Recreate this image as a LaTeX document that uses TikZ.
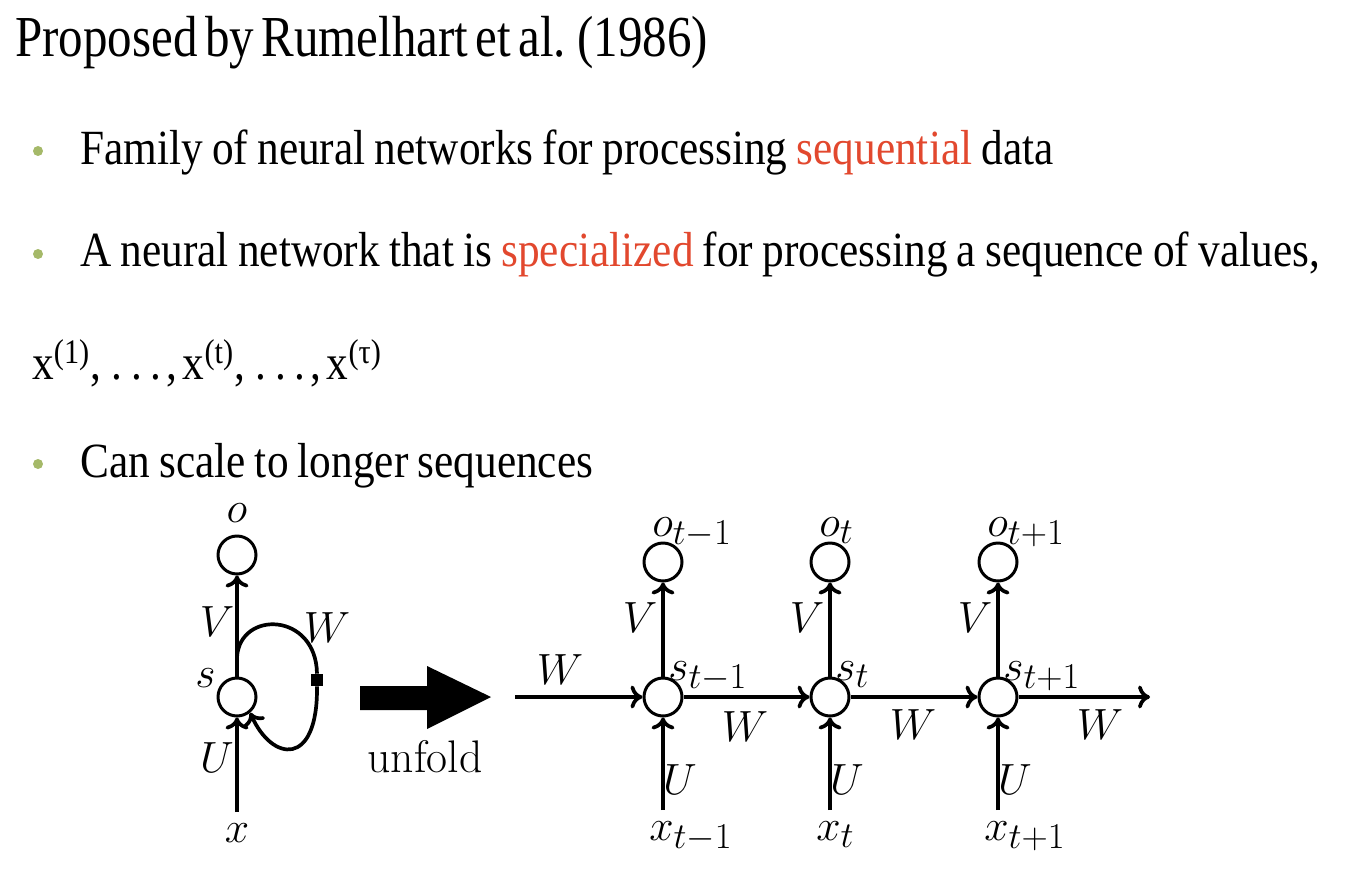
\documentclass[tikz,border=0pt]{standalone}
\usepackage{fontspec}
\newfontfamily\slidefont[FakeStretch=0.88,WordSpace=0.85]{Liberation Serif}
\newfontfamily\titlefont[FakeStretch=0.845,WordSpace=0.6]{Liberation Serif}
\usetikzlibrary{arrows.meta}
\DeclareMathSizes{26}{26}{21}{16}
\newcommand\seqgap{,\kern6pt.\kern5pt.\kern5pt.\kern3pt,\kern3pt}
\definecolor{slidered}{RGB}{226,72,46}
\definecolor{bulletgreen}{RGB}{165,185,105}
\tikzset{
  unit/.style={circle,draw,line width=1.7pt,minimum size=0.76cm,inner sep=0pt},
  link/.style={line width=2.1pt,-{To[length=2.4mm,width=4.6mm,line width=2.1pt]}},
  lbl/.style={font=\fontsize{26}{30}\selectfont,inner sep=0pt},
  bodytext/.style={anchor=base west,inner sep=0pt,font=\slidefont\fontsize{28}{33}\selectfont},
  titletext/.style={anchor=base west,inner sep=0pt,font=\titlefont\fontsize{33}{39}\selectfont},
  bullet/.style={circle,fill=bulletgreen,minimum size=0.2cm,inner sep=0pt},
}
\begin{document}
\begin{tikzpicture}[x=0.02cm,y=-0.02cm]
\useasboundingbox (0,0) rectangle (1358,878);
% slide text
\node[titletext] (title) at (15,57) {Proposed by Rumelhart et al. (1986)};
\node[bullet] (b1) at (38,151) {};
\node[bodytext] (l1) at (80,165) {Family of neural networks for processing \textcolor{slidered}{sequential} data};
\node[bullet] (b2) at (38,254) {};
\node[bodytext] (l2) at (80,267) {A neural network that is \textcolor{slidered}{specialized} for processing a sequence of values,};
\node[bodytext] (seq) at (32,379) {x\textsuperscript{(1)}\seqgap x\textsuperscript{(t)}\seqgap x\textsuperscript{(τ)}};
\node[bullet] (b3) at (38,464) {};
\node[bodytext] (l3) at (80,477) {Can scale to longer sequences};

% folded
\node[unit] (fo) at (237,555) {};
\node[unit] (fs) at (237,697) {};
\node[lbl] (fx) at (237,833) {$x$};
\node[lbl,anchor=base] (folab) at (237,522) {$o$};
\node[lbl,anchor=base east] (fslab) at (216,687) {$s$};
\coordinate (fin) at (237,812);
\coordinate (fork) at (237,657);
\draw[link] (fin) -- (fs);
\draw[link] (fs) -- (fo);
\node[lbl] (fU) at (217,758) {$U$};
\node[lbl] (fV) at (217,622) {$V$};
\node[lbl] (fW) at (327,628) {$W$};
\node[fill,minimum size=0.24cm,inner sep=0pt] (delay) at (317,680) {};
\draw[line width=2.1pt] (fork) .. controls (240,610) and (316,612) .. (delay.north);
\draw[link] (delay.south) .. controls (318,768) and (272,762) .. (fs.-50);

% unfold arrow
\fill (360,686) -- (427,686) -- (427,666) -- (491,697) -- (427,729) -- (427,710) -- (360,710) -- cycle;
\node[lbl] (unfold) at (425,757) {unfold};

% unfolded
\foreach \i/\xx/\idx in {1/663/t-1, 2/830/t, 3/998/t+1} {
  \node[unit] (s\i) at (\xx,697) {};
  \node[unit] (o\i) at (\xx,562) {};
  \node[lbl,anchor=base west] (xlab\i) at (\xx-14,840) {$x_{\idx}$};
  \node[lbl,anchor=base west] (olab\i) at (\xx-11,536) {$o_{\idx}$};
  \node[lbl,anchor=base west] (slab\i) at (\xx+5,680) {$s_{\idx}$};
  \coordinate (in\i) at (\xx,810);
  \draw[link] (in\i) -- (s\i);
  \draw[link] (s\i) -- (o\i);
  \node[lbl] (V\i) at (\xx-23,618) {$V$};
  \node[lbl] (U\i) at (\xx+17,780) {$U$};
}
\coordinate (win) at (515,697);
\coordinate (wout) at (1150,697);
\draw[link] (win) -- (s1);
\draw[link] (s1) -- (s2);
\draw[link] (s2) -- (s3);
\draw[link] (s3) -- (wout);
\node[lbl] (W0) at (560,670) {$W$};
\node[lbl] (W1) at (745,727) {$W$};
\node[lbl] (W2) at (913,725) {$W$};
\node[lbl] (W3) at (1100,725) {$W$};
\end{tikzpicture}
\end{document}
